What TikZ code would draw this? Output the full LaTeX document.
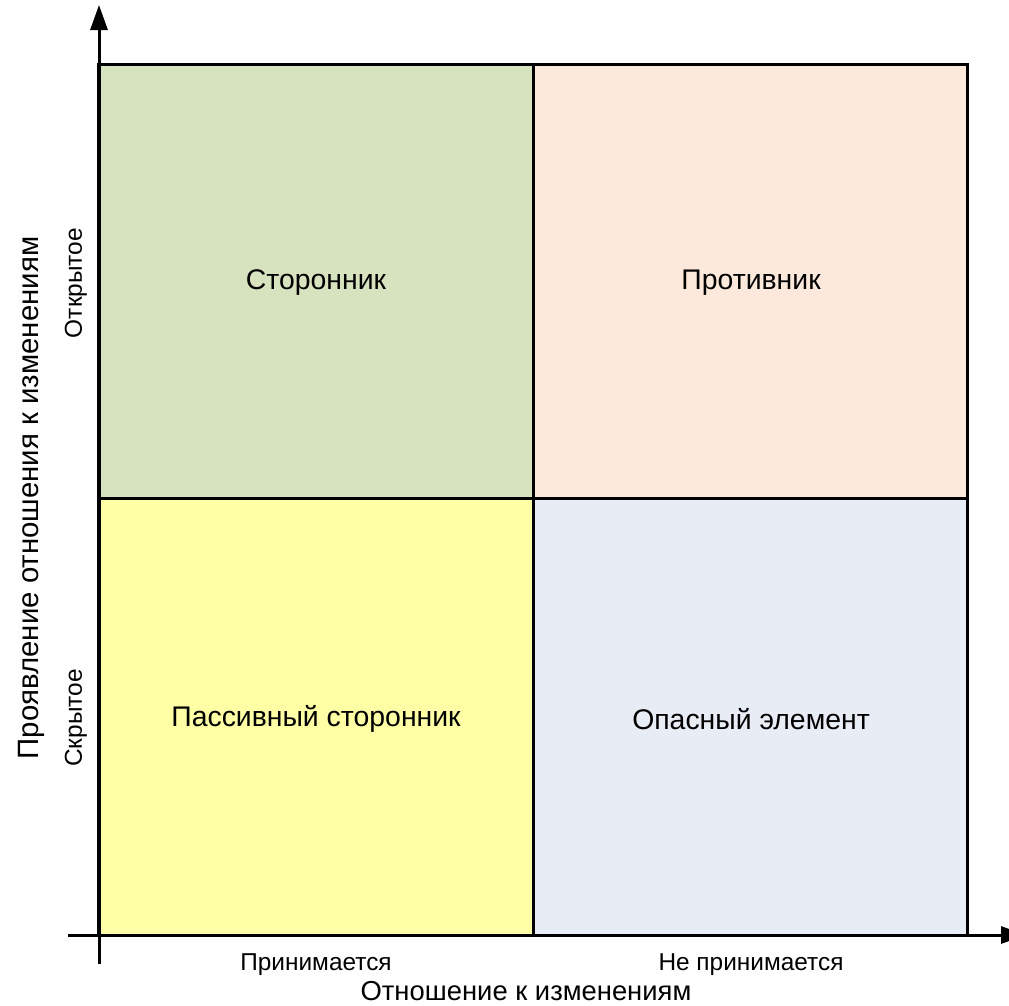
\documentclass[tikz,border=0pt]{standalone}
\usepackage{fontspec}
\setmainfont{Liberation Sans}
\usetikzlibrary{arrows.meta}
\definecolor{qgreen}{HTML}{D7E3BF}
\definecolor{qpeach}{HTML}{FCE9DB}
\definecolor{qyellow}{HTML}{FFFFA6}
\definecolor{qblue}{HTML}{E8ECF4}
\tikzset{
  quad/.style={draw=black, line width=3bp, minimum width=434bp, minimum height=437bp, inner sep=0pt, font=\fontsize{28.5}{32}\selectfont},
  axisline/.style={line width=3bp, draw=black, -{Triangle[length=25bp,width=17bp]}},
  biglabel/.style={font=\fontsize{27.5}{32}\selectfont, inner sep=0pt},
  smalllabel/.style={font=\fontsize{24.5}{28}\selectfont, inner sep=0pt}
}
\begin{document}
\begin{tikzpicture}[x=1bp,y=-1bp]
\useasboundingbox (0,0) rectangle (1009,1006);
\clip (0,0) rectangle (1009,1006);
\fill[white] (0,0) rectangle (1009,1006);
\node[quad, fill=qgreen, minimum height=434bp] (q1) at (316,281) {};
\node[quad, fill=qpeach, minimum height=434bp] (q2) at (750,281) {};
\node[quad, fill=qyellow] (q3) at (316,716.5) {};
\node[quad, fill=qblue] (q4) at (750,716.5) {};
\node[biglabel, font=\fontsize{28.5}{32}\selectfont] (t1) at (316,283) {Сторонник};
\node[biglabel, font=\fontsize{28.5}{32}\selectfont] (t2) at (751,283) {Противник};
\node[biglabel, font=\fontsize{28.5}{32}\selectfont] (t3) at (316,719) {Пассивный сторонник};
\node[biglabel, font=\fontsize{28.5}{32}\selectfont] (t4) at (751,719) {Опасный элемент};
\coordinate (ybot) at (99,964);
\coordinate (ytop) at (99,5);
\coordinate (xl) at (68,935);
\coordinate (xr) at (1026,935);
\draw[axisline] (ybot) -- (ytop);
\draw[axisline] (xl) -- (xr);
\node[biglabel, font=\fontsize{29.5}{34}\selectfont, rotate=90] (ylab) at (31,498) {Проявление отношения к изменениям};
\node[biglabel] (xlab) at (526,991) {Отношение к изменениям};
\node[smalllabel, rotate=90] (open) at (76,283) {Открытое};
\node[smalllabel, rotate=90] (hidden) at (76,718) {Скрытое};
\node[smalllabel] (acc) at (316,965) {Принимается};
\node[smalllabel] (nacc) at (751,965) {Не принимается};
\end{tikzpicture}
\end{document}
